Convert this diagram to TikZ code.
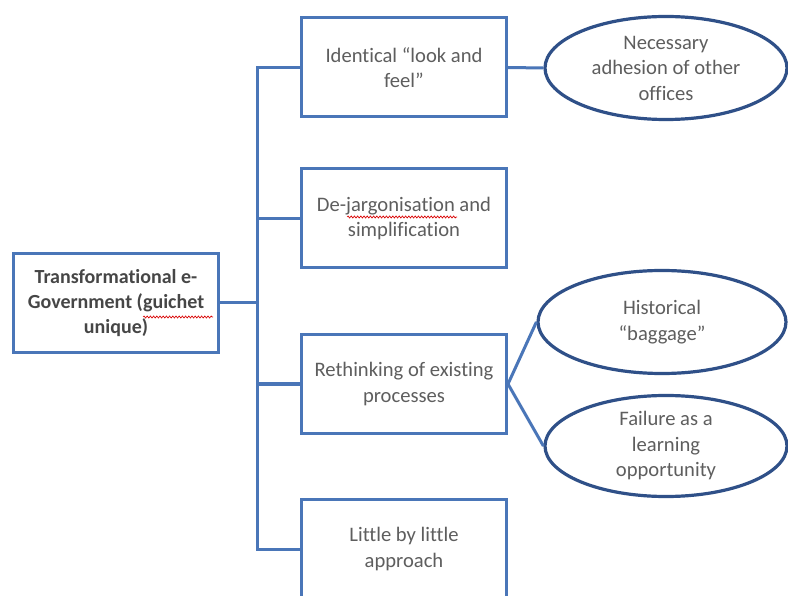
\documentclass[tikz,border=0pt]{standalone}
\usepackage{fontspec}
\setmainfont[Ligatures=NoCommon]{Carlito}
\usetikzlibrary{shapes.geometric,decorations.pathmorphing}
\definecolor{boxblue}{HTML}{4A76B8}
\definecolor{ovalblue}{HTML}{2F5088}
\definecolor{txtgray}{HTML}{5E5E5E}
\definecolor{rootgray}{HTML}{464646}
\tikzset{
  x=1pt, y=-1pt,
  stepbox/.style={draw=boxblue, line width=3pt, fill=white, minimum width=205pt,
    minimum height=99pt, inner sep=0pt, align=center, text=txtgray,
    font=\fontsize{20.6}{25.5}\selectfont},
  rootbox/.style={stepbox, text=rootgray, font=\fontsize{20}{25}\selectfont\bfseries},
  oval/.style={ellipse, draw=ovalblue, line width=3.2pt, fill=white, inner sep=0pt,
    align=center, text=txtgray, font=\fontsize{20.6}{25.5}\selectfont},
  conn/.style={draw=boxblue, line width=3pt},
  spell/.style={draw=red!85!black, line width=0.7pt,
    decorate, decoration={snake, amplitude=1pt, segment length=3.2pt}}
}
\begin{document}
\begin{tikzpicture}
\useasboundingbox (0,0) rectangle (788,596);
\clip (0,0) rectangle (788,596);
\fill[white] (0,0) rectangle (788,596);

% central topic and its four branches
\node[rootbox] (root) at (116,303) {Transformational e-\\Government (guichet\\unique)};
\node[stepbox] (b1) at (404,67.5) {Identical “look and\\feel”};
\node[stepbox] (b2) at (404,218.5) {De-jargonisation and\\simplification};
\node[stepbox] (b3) at (404,384) {Rethinking of existing\\processes};
\node[stepbox] (b4) at (404,549) {Little by little\\approach};

% consequences
\node[oval, minimum width=242pt, minimum height=103pt] (e1) at (666,68)
  {Necessary\\adhesion of other\\offices};
\node[oval, minimum width=248pt, minimum height=103pt] (e2) at (662,322)
  {Historical\\“baggage”};
\node[oval, minimum width=242pt, minimum height=101pt] (e3) at (666,446)
  {Failure as a\\learning\\opportunity};

% tree connectors
\draw[conn] (root.east) -- ++(37,0);
\draw[conn] (b1.west) -- ++(-43,0) |- (b4.west);
\draw[conn] (b2.west) -- ++(-43,0);
\draw[conn] (b3.west) -- ++(-43,0);
\draw[conn] (b1.east) -- (e1.west);
\draw[conn] (b3.east) -- (e2.west);
\draw[conn] (b3.east) -- (e3.west);

% spell-check marks
\draw[spell] (143,317) -- (213,317);
\draw[spell] (347,217) -- (457,217);
\end{tikzpicture}
\end{document}
